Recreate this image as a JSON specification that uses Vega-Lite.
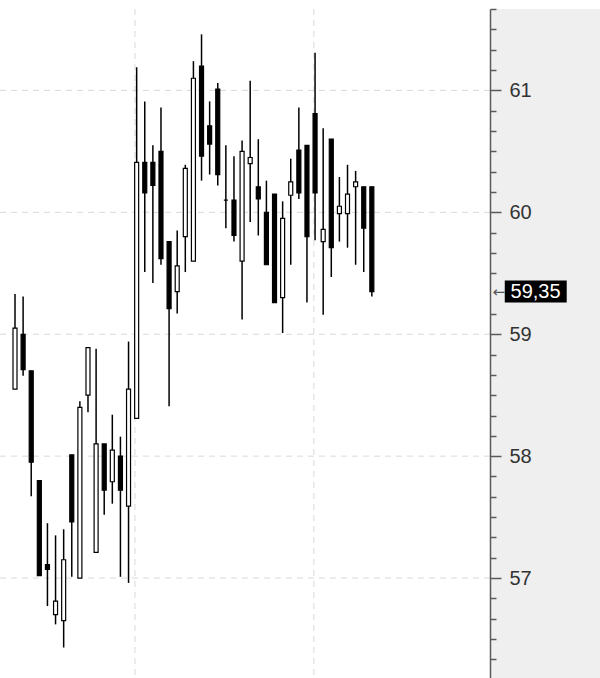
{
  "$schema": "https://vega.github.io/schema/vega-lite/v6.json",
  "width": 490,
  "height": 669,
  "autosize": {"type": "none"},
  "padding": {"left": 0, "top": 9, "right": 110, "bottom": 0},
  "background": "white",
  "config": {"view": {"stroke": null}},
  "resolve": {"axis": {"y": "independent"}},
  "datasets": {
    "candles": [
      {"i": 0, "open": 58.55, "high": 59.33, "low": 58.55, "close": 59.05},
      {"i": 1, "open": 59.00, "high": 59.31, "low": 58.66, "close": 58.71},
      {"i": 2, "open": 58.70, "high": 58.70, "low": 57.67, "close": 57.95},
      {"i": 3, "open": 57.80, "high": 57.80, "low": 57.02, "close": 57.02},
      {"i": 4, "open": 57.11, "high": 57.45, "low": 56.77, "close": 57.07},
      {"i": 5, "open": 56.70, "high": 57.35, "low": 56.62, "close": 56.81},
      {"i": 6, "open": 56.65, "high": 57.40, "low": 56.43, "close": 57.15},
      {"i": 7, "open": 58.01, "high": 58.01, "low": 57.01, "close": 57.46},
      {"i": 8, "open": 57.00, "high": 58.45, "low": 57.00, "close": 58.40},
      {"i": 9, "open": 58.50, "high": 58.89, "low": 58.36, "close": 58.89},
      {"i": 10, "open": 57.21, "high": 58.88, "low": 57.21, "close": 58.10},
      {"i": 11, "open": 58.10, "high": 58.10, "low": 57.52, "close": 57.72},
      {"i": 12, "open": 57.79, "high": 58.34, "low": 57.61, "close": 58.05},
      {"i": 13, "open": 58.00, "high": 58.16, "low": 57.01, "close": 57.72},
      {"i": 14, "open": 57.59, "high": 58.94, "low": 56.96, "close": 58.55},
      {"i": 15, "open": 58.31, "high": 61.19, "low": 58.31, "close": 60.41},
      {"i": 16, "open": 60.41, "high": 60.91, "low": 59.51, "close": 60.16},
      {"i": 17, "open": 60.41, "high": 60.55, "low": 59.42, "close": 60.22},
      {"i": 18, "open": 60.50, "high": 60.86, "low": 59.57, "close": 59.62},
      {"i": 19, "open": 59.76, "high": 59.76, "low": 58.41, "close": 59.21},
      {"i": 20, "open": 59.35, "high": 59.85, "low": 59.17, "close": 59.56},
      {"i": 21, "open": 59.80, "high": 60.39, "low": 59.51, "close": 60.36},
      {"i": 22, "open": 59.60, "high": 61.24, "low": 59.60, "close": 61.10},
      {"i": 23, "open": 61.20, "high": 61.46, "low": 60.26, "close": 60.46},
      {"i": 24, "open": 60.71, "high": 60.91, "low": 60.31, "close": 60.56},
      {"i": 25, "open": 61.01, "high": 61.06, "low": 60.22, "close": 60.31},
      {"i": 26, "open": 60.10, "high": 60.55, "low": 59.87, "close": 60.10},
      {"i": 27, "open": 60.10, "high": 60.46, "low": 59.76, "close": 59.81},
      {"i": 28, "open": 59.60, "high": 60.59, "low": 59.12, "close": 60.50},
      {"i": 29, "open": 60.40, "high": 61.08, "low": 59.92, "close": 60.45},
      {"i": 30, "open": 60.21, "high": 60.60, "low": 59.81, "close": 60.11},
      {"i": 31, "open": 60.00, "high": 60.26, "low": 59.57, "close": 59.57},
      {"i": 32, "open": 60.15, "high": 60.15, "low": 59.26, "close": 59.26},
      {"i": 33, "open": 59.30, "high": 60.09, "low": 59.01, "close": 59.95},
      {"i": 34, "open": 60.14, "high": 60.44, "low": 59.57, "close": 60.25},
      {"i": 35, "open": 60.51, "high": 60.86, "low": 60.11, "close": 60.16},
      {"i": 36, "open": 60.55, "high": 60.55, "low": 59.26, "close": 59.80},
      {"i": 37, "open": 60.81, "high": 61.31, "low": 59.77, "close": 60.16},
      {"i": 38, "open": 59.76, "high": 60.69, "low": 59.16, "close": 59.86},
      {"i": 39, "open": 60.60, "high": 60.60, "low": 59.47, "close": 59.71},
      {"i": 40, "open": 59.99, "high": 60.29, "low": 59.76, "close": 60.05},
      {"i": 41, "open": 59.99, "high": 60.39, "low": 59.71, "close": 60.15},
      {"i": 42, "open": 60.21, "high": 60.34, "low": 59.57, "close": 60.25},
      {"i": 43, "open": 60.21, "high": 60.21, "low": 59.51, "close": 59.87},
      {"i": 44, "open": 60.21, "high": 60.21, "low": 59.31, "close": 59.35}
    ],
    "levels": [{"level": 57}, {"level": 58}, {"level": 59}, {"level": 60}, {"level": 61}],
    "sessions": [{"i": 14.79}, {"i": 36.85}],
    "last": [{"price": 59.35, "label": "59,35", "arrow": "←"}]
  },
  "layer": [
    {
      "data": {"values": [{"panel": "axis"}]},
      "mark": {"type": "rect", "color": "#efefef", "clip": false},
      "encoding": {
        "x": {"datum": 58.62, "type": "quantitative", "scale": {"domain": [-1.85, 58.57], "nice": false, "zero": false, "padding": 0}, "axis": null},
        "x2": {"datum": 80},
        "y": {"datum": 61.668, "type": "quantitative", "scale": {"domain": [56.18, 61.668], "nice": false, "zero": false, "padding": 0}, "axis": null},
        "y2": {"datum": 56.18}
      }
    },
    {
      "data": {"name": "levels"},
      "mark": {"type": "rule", "color": "#d9d9d9", "strokeDash": [6, 5], "strokeWidth": 1},
      "encoding": {
        "y": {
          "field": "level",
          "type": "quantitative",
          "axis": {
            "orient": "right",
            "title": null,
            "grid": false,
            "domain": true,
            "domainColor": "#5a5a5a",
            "domainWidth": 1.5,
            "values": [57, 58, 59, 60, 61],
            "ticks": true,
            "tickColor": "#5a5a5a",
            "tickWidth": 1.5,
            "tickSize": 11,
            "labelPadding": 8,
            "format": "d",
            "labelFont": "Liberation Sans",
            "labelFontSize": 20,
            "labelColor": "#333333",
            "labelAlign": "left",
            "labelBaseline": "middle",
            "labelOverlap": false,
            "labelFlush": false,
            "offset": 0,
            "zindex": 2
          }
        }
      }
    },
    {
      "data": {"name": "sessions"},
      "mark": {"type": "rule", "color": "#d9d9d9", "strokeDash": [6, 5], "strokeWidth": 1},
      "encoding": {
        "x": {"field": "i", "type": "quantitative", "axis": null}
      }
    },
    {
      "data": {"name": "candles"},
      "mark": {"type": "rule", "color": "black", "strokeWidth": 1.5},
      "encoding": {
        "x": {"field": "i", "type": "quantitative", "axis": null},
        "y": {"field": "low", "type": "quantitative", "axis": null},
        "y2": {"field": "high"}
      }
    },
    {
      "data": {"name": "candles"},
      "mark": {"type": "bar", "size": 4, "stroke": "black", "strokeWidth": 1.2},
      "encoding": {
        "x": {"field": "i", "type": "quantitative", "axis": null},
        "y": {
          "field": "open",
          "type": "quantitative",
          "axis": {
            "orient": "right",
            "title": null,
            "grid": false,
            "domain": false,
            "values": [56.3333, 56.5, 56.6667, 56.8333, 57.1667, 57.3333, 57.5, 57.6667, 57.8333, 58.1667, 58.3333, 58.5, 58.6667, 58.8333, 59.1667, 59.5, 59.6667, 59.8333, 60.1667, 60.3333, 60.5, 60.6667, 60.8333, 61.1667, 61.3333, 61.5, 61.6667],
            "ticks": true,
            "tickColor": "#5a5a5a",
            "tickWidth": 1.5,
            "tickSize": 6,
            "labels": false,
            "offset": 0,
            "zindex": 2
          }
        },
        "y2": {"field": "close"},
        "fill": {"condition": {"test": "datum.close >= datum.open", "value": "white"}, "value": "black"}
      }
    },
    {
      "data": {"name": "last"},
      "mark": {"type": "rect", "color": "black", "clip": false},
      "encoding": {
        "x": {"datum": 60.39, "type": "quantitative", "axis": null},
        "x2": {"datum": 68.03},
        "y": {"datum": 59.44, "type": "quantitative", "axis": null},
        "y2": {"datum": 59.26}
      }
    },
    {
      "data": {"name": "last"},
      "mark": {"type": "text", "color": "white", "font": "Liberation Sans", "fontSize": 20, "align": "left", "baseline": "middle", "clip": false},
      "encoding": {
        "x": {"datum": 61.1, "type": "quantitative", "axis": null},
        "y": {"field": "price", "type": "quantitative", "axis": null},
        "text": {"field": "label"}
      }
    },
    {
      "data": {"name": "last"},
      "mark": {"type": "text", "color": "#555555", "font": "DejaVu Sans", "fontSize": 15, "align": "center", "baseline": "middle", "clip": false},
      "encoding": {
        "x": {"datum": 59.65, "type": "quantitative", "axis": null},
        "y": {"field": "price", "type": "quantitative", "axis": null},
        "text": {"field": "arrow"}
      }
    }
  ]
}
